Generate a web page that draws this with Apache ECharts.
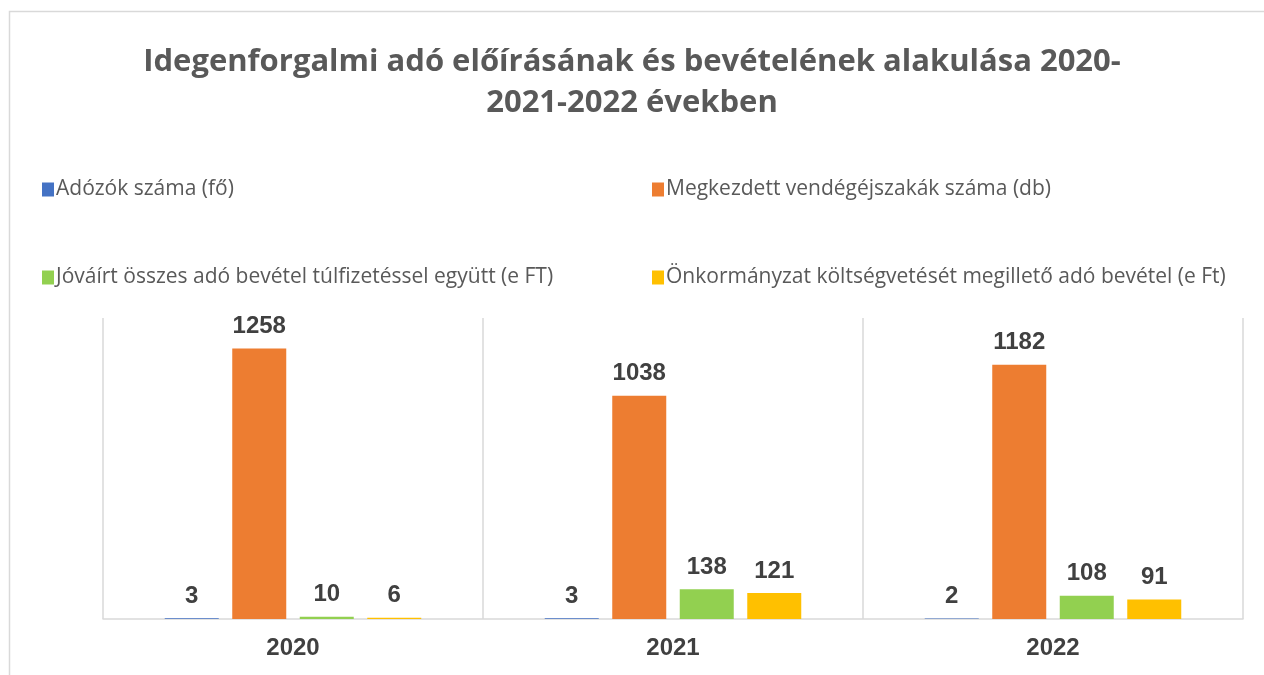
<!DOCTYPE html>
<html>
<head>
<meta charset="utf-8">
<script src="https://cdn.jsdelivr.net/npm/echarts@6/dist/echarts.min.js"></script>
<style>
  html, body { margin: 0; padding: 0; background: #fff; }
  #chart { width: 1264px; height: 675px; }
</style>
</head>
<body>
<div id="chart"></div>
<script>
// evek
var years = ['2020', '2021', '2022']
var seriesNames = [
  'Adózók száma (fő)',
  'Megkezdett vendégéjszakák száma (db)',
  'Jóváírt összes adó bevétel túlfizetéssel együtt (e FT)',
  'Önkormányzat költségvetését megillető adó bevétel (e Ft)'
]
var adozok = [3, 3, 2]
var vendegejszakak = [1258, 1038, 1182]
var jovairt = [10, 138, 108]
var onkormanyzat = [6, 121, 91]
var colors = ['#4472C4', '#ED7D31', '#92D050', '#FFC000']

var chart = echarts.init(document.getElementById('chart'))

var labelStyle = {
  show: true,
  position: 'top',
  distance: 10,
  color: '#404040',
  fontSize: 24,
  fontWeight: 'bold',
  fontFamily: 'Liberation Sans, Arial'
}

function legendAt(i, left, top) {
  return {
    left: left,
    top: top,
    data: [seriesNames[i]],
    itemWidth: 12,
    itemHeight: 14,
    itemGap: 0,
    icon: 'rect',
    textStyle: {
      color: '#595959',
      fontSize: 21,
      fontFamily: 'Open Sans',
      padding: [0, 0, 0, -3]
    }
  }
}

var allData = [adozok, vendegejszakak, jovairt, onkormanyzat]

chart.setOption({
  color: colors,
  animation: false,
  title: {
    text: 'Idegenforgalmi adó előírásának és bevételének alakulása 2020-\n2021-2022 években',
    left: 'center',
    top: 37,
    textStyle: {
      color: '#595959',
      fontSize: 31,
      fontWeight: 'bold',
      fontFamily: 'Open Sans',
      lineHeight: 41
    }
  },
  graphic: [{
    type: 'rect',
    left: 7,
    top: 9,
    shape: { width: 1300, height: 700 },
    style: { fill: 'none', stroke: '#d9d9d9', lineWidth: 1.5 },
    silent: true
  }],
  legend: [
    legendAt(0, 37, 174),
    legendAt(1, 647, 174),
    legendAt(2, 37, 262),
    legendAt(3, 647, 262)
  ],
  grid: {
    left: 103,
    right: 21,
    top: 318,
    bottom: 56
  },
  xAxis: {
    type: 'category',
    data: years,
    axisLine: { lineStyle: { color: '#d9d9d9', width: 1.5 } },
    axisTick: { show: false },
    splitLine: { show: true, lineStyle: { color: '#d9d9d9', width: 1.5 } },
    axisLabel: {
      color: '#404040',
      fontSize: 24,
      fontWeight: 'bold',
      fontFamily: 'Liberation Sans, Arial',
      margin: 17
    }
  },
  yAxis: {
    type: 'value',
    min: 0,
    max: 1400,
    show: false,
    splitLine: { show: false }
  },
  series: allData.map(function (d, i) {
    return {
      name: seriesNames[i],
      type: 'bar',
      data: d,
      barWidth: 54,
      barGap: '25%',
      itemStyle: { color: colors[i] },
      label: labelStyle
    }
  })
})
</script>
</body>
</html>
